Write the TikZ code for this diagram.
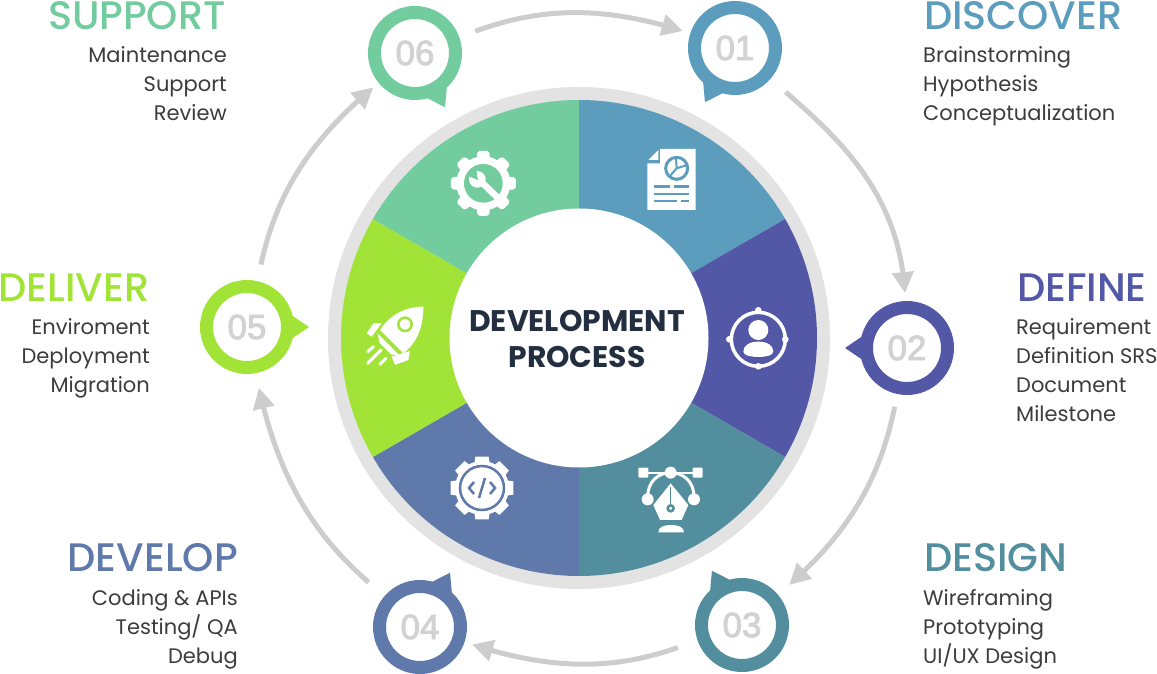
\documentclass[tikz,border=0pt]{standalone}
\usepackage{fontspec}
\setmainfont{Poppins}
\newfontfamily\headfont{Poppins Medium}
\newfontfamily\numfont[FakeBold=2.5]{Liberation Sans}
\usetikzlibrary{calc, arrows.meta, bending}

\definecolor{discovercol}{HTML}{5C9DBD}
\definecolor{definecol}{HTML}{5358A6}
\definecolor{designcol}{HTML}{528E9E}
\definecolor{developcol}{HTML}{5E79AA}
\definecolor{delivercol}{HTML}{A2E337}
\definecolor{supportcol}{HTML}{73CC9E}
\definecolor{ringcol}{HTML}{E3E3E3}
\definecolor{flowcol}{HTML}{CDCDCD}
\definecolor{numcol}{HTML}{D2D2D2}
\definecolor{bodycol}{HTML}{3C3C3C}
\definecolor{titlecol}{HTML}{232F40}

\begin{document}
\begin{tikzpicture}[
    x=1pt, y=1pt,
    % Styles
    badge/.style={circle, draw=#1, line width=13pt, fill=white, minimum size=81pt, inner sep=0pt,
        text=numcol, font=\numfont\fontsize{35}{35}\selectfont},
    flow/.style={draw=flowcol, line width=5pt, -{Triangle[length=21pt, width=21pt, flex]}},
    heading/.style={font=\headfont\fontsize{39.8}{40}\selectfont, inner sep=0pt},
    bodytext/.style={font=\fontsize{21}{29}\selectfont, text=bodycol, inner sep=0pt}
]
    \useasboundingbox (0,0) rectangle (1157,674);

    % --- PIE ---
    \coordinate (hub) at (579,336);
    \fill[ringcol] (hub) circle (251);
    \foreach \col/\from in {discovercol/30, definecol/-30, designcol/-90, developcol/-150, delivercol/-210, supportcol/-270}
        \fill[\col] (hub) -- ++(\from:238) arc (\from:\from+60:238) -- cycle;
    \node[circle, fill=white, minimum size=259pt, inner sep=0pt] (disc) at (hub) {};
    \node[align=center, text=titlecol, inner sep=0pt,
        font=\bfseries\fontsize{29.8}{36}\selectfont] (title) at (577,335) {DEVELOPMENT\\PROCESS};

    % --- BADGES ---
    \foreach \id/\num/\col/\x/\y/\a in {
        one/01/discovercol/735/626/-119,
        two/02/definecol/907/326/180,
        three/03/designcol/742/49/119,
        four/04/developcol/420/47/61,
        five/05/delivercol/247/347/0,
        six/06/supportcol/415/621/-61}
    {
        \node[badge=\col] (\id) at (\x,\y) {\num};
        \fill[\col] ($(\id)+(\a+15:46)$) -- ($(\id)+(\a:62)$) -- ($(\id)+(\a-15:46)$) -- cycle;
    }

    % --- FLOW ---
    \draw[flow, shorten <=17pt, shorten >=8pt] (six) to[bend left=19] (one);
    \draw[flow, shorten <=20pt, shorten >=8pt] (one) to[out=-41, in=92] (two);
    \draw[flow, shorten <=13pt, shorten >=15pt] (two) to[bend left=19] (three);
    \draw[flow, shorten <=21pt, shorten >=8pt] (three) to[bend left=19] (four);
    \draw[flow, shorten <=21pt, shorten >=15pt] (four) to[bend left=19] (five);
    \draw[flow, shorten <=17pt, shorten >=7pt] (five) to[bend left=19] (six);

    % --- ICONS ---
    % Report page
    \begin{scope}[shift={(600,554)}, x=.3333pt, y=-.3333pt]
        \fill[white] (180,87) -- (287,87) -- (287,270) -- (142,270) -- (142,130) -- (180,130) -- cycle;
        \fill[white] (175,90) -- (145,120) -- (175,120) -- cycle;
        \draw[discovercol, line width=3pt] (230,145) circle (33);
        \draw[discovercol, line width=2pt] (228,112) -- (230,145) -- (262,135) (230,145) -- (208,170);
        \draw[discovercol, line width=2.5pt] (163,200) -- (210,200) (222,200) -- (266,200)
            (163,222) -- (266,222) (163,243) -- (230,243) (243,243) -- (266,243);
    \end{scope}
    % Target person
    \begin{scope}[shift={(715,379)}, x=.3333pt, y=-.3333pt]
        \draw[white, line width=3.5pt] (130,133) circle (81);
        \foreach \dx/\dy in {0/-87, 0/81, -87/0, 81/0}
            \fill[white] (130+\dx,133+\dy) circle (10);
        \fill[white] (130,105) circle (30);
        \fill[white] (85,170) .. controls (85,150) and (105,140) .. (130,140)
            .. controls (155,140) and (175,150) .. (175,170)
            .. controls (175,182) and (150,186) .. (130,186)
            .. controls (110,186) and (85,182) .. (85,170) -- cycle;
    \end{scope}
    % Pen tool
    \begin{scope}[shift={(600,234)}, x=.3333pt, y=-.3333pt]
        \fill[white, rounded corners=1pt] (115,83) rectangle (145,113) (278,83) rectangle (308,113);
        \draw[white, line width=2pt] (145,98) -- (278,98);
        \fill[white] (212,98) circle (18) (143,178) circle (18) (282,178) circle (18);
        \draw[white, line width=3pt] (143,170) .. controls (143,125) and (175,98) .. (212,98)
            .. controls (250,98) and (282,125) .. (282,170);
        \fill[white] (212,130) -- (160,195) -- (180,240) -- (245,240) -- (265,195) -- cycle;
        \draw[designcol, line width=1.5pt] (212,140) -- (212,195);
        \fill[designcol] (212,205) circle (13);
        \fill[white] (212,205) circle (5);
        \fill[white] (175,277) .. controls (175,262) and (190,255) .. (213,255)
            .. controls (236,255) and (252,262) .. (252,277) -- cycle;
    \end{scope}
    % Code gear
    \begin{scope}[shift={(482,186)}]
        \fill[white] (0,0) circle (27);
        \foreach \a in {0,45,...,315}
            \fill[white] ($(\a-17:26)$) -- ($(\a-12:32)$) -- ($(\a+12:32)$) -- ($(\a+17:26)$) -- cycle;
        \draw[developcol, line width=2.5pt] (0,0) circle (22);
        \draw[developcol, line width=2.5pt] (-8,6) -- (-13,0) -- (-8,-6) (8,6) -- (13,0) -- (8,-6)
            (3,10) -- (-3,-10);
    \end{scope}
    % Rocket
    \begin{scope}[shift={(355,379)}, x=.3333pt, y=-.3333pt]
        \fill[white] (205,35) .. controls (150,35) and (105,60) .. (75,105) -- (145,175)
            .. controls (190,140) and (205,90) .. (205,35) -- cycle;
        \draw[delivercol, line width=2.5pt, fill=white] (150,88) circle (20);
        \fill[white] (68,116) -- (136,184) -- (108,178) -- (74,144) -- cycle;
        \fill[white] (55,85) -- (80,85) -- (50,125) -- (35,115) -- cycle;
        \fill[white] (165,168) -- (160,195) -- (120,210) -- (110,185) -- cycle;
        \draw[white, line width=3pt, line cap=round] (38,170) -- (55,155) (38,205) -- (78,165) (75,208) -- (93,190);
    \end{scope}
    % Wrench gear
    \begin{scope}[shift={(440,534)}, x=.3333pt, y=-.3333pt]
        \fill[white] (130,130) circle (81);
        \foreach \a in {0,45,...,315}
            \fill[white, rounded corners=2pt] ($(130,130)+(\a-15:78)$) -- ($(130,130)+(\a-10:99)$)
                -- ($(130,130)+(\a+10:99)$) -- ($(130,130)+(\a+15:78)$) -- cycle;
        \fill[supportcol] (130,130) circle (58);
        \draw[white, line width=6.5pt] (118,120) -- (176,176);
        \fill[white] (112,118) circle (25);
        \fill[supportcol] (114,120) -- (108,85) -- (84,108) -- cycle;
    \end{scope}

    % --- LABELS ---
    \node[heading, text=discovercol, anchor=base west] (discover) at (924,644) {DISCOVER};
    \node[bodytext, align=left, anchor=north west] (discoverlist) at (923,628) {Brainstorming\\Hypothesis\\Conceptualization};
    \node[heading, text=definecol, anchor=base west] (define) at (1017,372) {DEFINE};
    \node[bodytext, align=left, anchor=north west] (definelist) at (1016,356) {Requirement\\Definition SRS\\Document\\Milestone};
    \node[heading, text=designcol, anchor=base west] (design) at (924,102) {DESIGN};
    \node[bodytext, align=left, anchor=north west] (designlist) at (923,85) {Wireframing\\Prototyping\\UI/UX Design};
    \node[heading, text=developcol, anchor=base east] (develop) at (238,102) {DEVELOP};
    \node[bodytext, align=right, anchor=north east] (developlist) at (238,85) {Coding \& APIs\\Testing/ QA\\Debug};
    \node[heading, text=delivercol, anchor=base east] (deliver) at (149.5,372) {DELIVER};
    \node[bodytext, align=right, anchor=north east] (deliverlist) at (150,356) {Enviroment\\Deployment\\Migration};
    \node[heading, text=supportcol, anchor=base east] (support) at (226,644) {SUPPORT};
    \node[bodytext, align=right, anchor=north east] (supportlist) at (227,628) {Maintenance\\Support\\Review};
\end{tikzpicture}
\end{document}
